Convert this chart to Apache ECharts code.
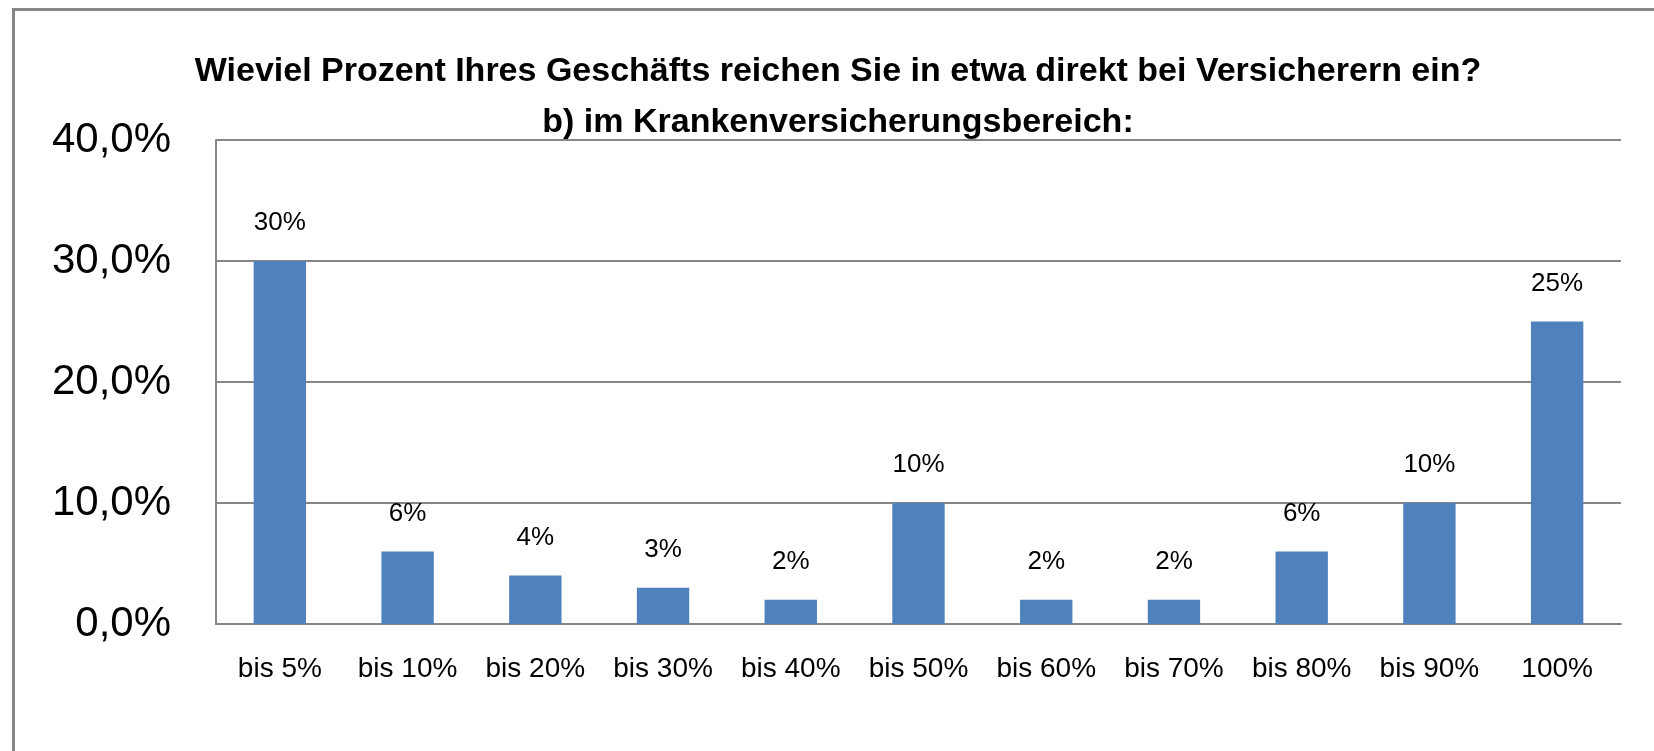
<!DOCTYPE html>
<html>
<head>
<meta charset="utf-8">
<script src="https://cdn.jsdelivr.net/npm/echarts@6/dist/echarts.min.js"></script>
<style>
html,body{margin:0;padding:0;background:#fff;}
#chart{width:1654px;height:751px;}
</style>
</head>
<body>
<div id="chart"></div>
<script>
const titleLine1 = 'Wieviel Prozent Ihres Geschäfts reichen Sie in etwa direkt bei Versicherern ein?';
const titleLine2 = 'b) im Krankenversicherungsbereich:';
const categories = ['bis 5%', 'bis 10%', 'bis 20%', 'bis 30%', 'bis 40%', 'bis 50%', 'bis 60%', 'bis 70%', 'bis 80%', 'bis 90%', '100%'];
const shares = [30, 6, 4, 3, 2, 10, 2, 2, 6, 10, 25];
const yTicks = [0, 10, 20, 30, 40];

const chart = echarts.init(document.getElementById('chart'), null, {renderer: 'canvas'});
chart.setOption({
  animation: false,
  backgroundColor: '#ffffff',
  graphic: [{
    type: 'rect',
    shape: {x: 13.5, y: 9.5, width: 1800, height: 900},
    style: {fill: 'none', stroke: '#878787', lineWidth: 3},
    silent: true
  }],
  title: {
    text: titleLine1 + '\n' + titleLine2,
    left: 838,
    top: 46,
    padding: 0,
    textAlign: 'center',
    textStyle: {
      fontFamily: 'Liberation Sans',
      fontWeight: 'bold',
      fontSize: 34,
      lineHeight: 51,
      color: '#000'
    }
  },
  grid: {left: 216, right: 33, top: 140, bottom: 127},
  xAxis: {
    type: 'category',
    data: categories,
    axisLine: {show: true, lineStyle: {color: '#868686', width: 2}},
    axisTick: {show: false},
    axisLabel: {
      interval: 0,
      margin: 31,
      fontFamily: 'Liberation Sans',
      fontSize: 28,
      color: '#000'
    }
  },
  yAxis: {
    type: 'value',
    min: yTicks[0],
    max: yTicks[yTicks.length - 1],
    interval: 10,
    axisLine: {show: true, lineStyle: {color: '#868686', width: 2}},
    axisTick: {show: false},
    splitLine: {show: true, lineStyle: {color: '#868686', width: 2}},
    axisLabel: {
      margin: 45,
      fontFamily: 'Liberation Sans',
      fontSize: 42,
      color: '#000',
      formatter: v => v.toFixed(1).replace('.', ',') + '%'
    }
  },
  series: [{
    type: 'bar',
    data: shares,
    barWidth: '41%',
    itemStyle: {color: '#4F81BD'},
    label: {
      show: true,
      position: 'top',
      distance: 25,
      fontFamily: 'Liberation Sans',
      fontSize: 26,
      color: '#000',
      formatter: p => p.value + '%'
    }
  }]
});
</script>
</body>
</html>
